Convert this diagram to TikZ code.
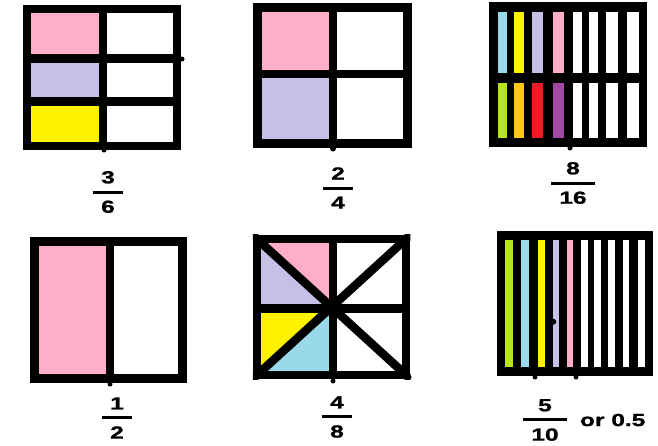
\documentclass[tikz,border=0pt]{standalone}
\usepackage{fontspec}
\setmainfont{Liberation Sans}[FakeStretch=1.4, BoldFeatures={FakeBold=1.2}]
\usetikzlibrary{calc, positioning}

\definecolor{pinkfill}{RGB}{255,174,201}
\definecolor{lavfill}{RGB}{200,191,231}
\definecolor{yelfill}{RGB}{255,242,0}
\definecolor{bluefill}{RGB}{153,217,234}
\definecolor{limefill}{RGB}{181,230,29}
\definecolor{goldfill}{RGB}{255,201,14}
\definecolor{redfill}{RGB}{237,28,36}
\definecolor{purpfill}{RGB}{163,73,164}

% numerator over a bar over denominator
\newcommand{\fracstack}[2]{%
  \setbox0=\hbox{#2}%
  \vbox{\offinterlineskip\halign{\hfil##\hfil\cr
    #1\cr\noalign{\kern7pt}%
    \rule{\dimexpr\wd0+16pt\relax}{3pt}\cr\noalign{\kern7pt}%
    #2\cr}}}

\begin{document}
\begin{tikzpicture}[x=1pt, y=-1pt,
  grid/.style={line width=8.5pt},
  nub/.style={fill=black},
  fraclabel/.style={inner sep=0pt, font=\bfseries\fontsize{17.5}{18}\selectfont}]
\useasboundingbox[fill=white] (0,0) rectangle (658,445);

% Square in sixths
\fill[pinkfill] (27,9) rectangle (103,58.5);
\fill[lavfill] (27,58.5) rectangle (103,101.5);
\fill[yelfill] (27,101.5) rectangle (103,146);
\draw[grid] (27,9) rectangle (177,146);
\draw[grid] (103,9) -- (103,146);
\draw[grid] (27,58.5) -- (177,58.5);
\draw[grid] (27,101.5) -- (177,101.5);
\fill[nub] (182,59) circle (2.5);
\fill[nub] (104,150) circle (2.5);
\node[fraclabel] (sixths) at (108,192) {\fracstack{3}{6}};

% Square in quarters
\fill[pinkfill] (257.5,7.5) rectangle (333,74);
\fill[lavfill] (257.5,74) rectangle (333,143.5);
\draw[grid] (257.5,7.5) rectangle (407.5,143.5);
\draw[grid] (333,7.5) -- (333,143.5);
\draw[grid] (257.5,74) -- (407.5,74);
\fill[nub] (333,148.5) circle (3);
\node[fraclabel] (quarters) at (338,188) {\fracstack{2}{4}};

% Square in sixteenths
\fill[black] (489,2) rectangle (647,147);
\foreach \xa/\xb/\ca/\cb in {498/507/bluefill/limefill, 514/524/yelfill/goldfill,
    532/543/lavfill/redfill, 553/564/pinkfill/purpfill, 573/582/white/white,
    589/598/white/white, 606/618/white/white, 627/639/white/white}{
  \fill[\ca] (\xa,12) rectangle (\xb,73);
  \fill[\cb] (\xa,83) rectangle (\xb,138);
}
\fill[nub] (570,148) circle (2.5);
\node[fraclabel] (sixteenths) at (573,183) {\fracstack{8}{16}};

% Square in halves
\fill[pinkfill] (34.5,241.5) rectangle (110,378.5);
\draw[grid] (34.5,241.5) rectangle (182.5,378.5);
\draw[grid] (110,241.5) -- (110,378.5);
\fill[nub] (110,384) circle (2.5);
\node[fraclabel] (halves) at (117,418) {\fracstack{1}{2}};

% Square in eighths
\coordinate (tl) at (257,239);
\coordinate (tr) at (406,239);
\coordinate (bl) at (257,375);
\coordinate (br) at (406,375);
\coordinate (mid) at (333,308.5);
\fill[pinkfill] (tl) -- (333,239) -- (mid) -- cycle;
\fill[lavfill] (tl) -- (mid) -- (257,308.5) -- cycle;
\fill[yelfill] (257,308.5) -- (mid) -- (bl) -- cycle;
\fill[bluefill] (bl) -- (mid) -- (333,375) -- cycle;
\draw[grid] (tl) rectangle (br);
\draw[grid] (333,239) -- (333,375);
\draw[grid] (257,308.5) -- (406,308.5);
\begin{scope}
  \clip (252.75,234.75) rectangle (410.25,379.25);
  \draw[grid] ($(tl)!-0.1!(br)$) -- ($(br)!-0.1!(tl)$);
  \draw[grid] ($(tr)!-0.1!(bl)$) -- ($(bl)!-0.1!(tr)$);
\end{scope}
\fill[nub] (333,381) circle (2.5);
\fill[nub] (409,377) circle (2.5);
\node[fraclabel] (eighths) at (337,417) {\fracstack{4}{8}};

% Square in tenths
\fill[black] (497,231) rectangle (653,376);
\foreach \xa/\xb/\cc in {505/513.3/limefill, 521/529.3/bluefill, 538.3/545/yelfill,
    552.7/559/lavfill, 566.7/573.3/pinkfill, 580.7/587.7/white, 594/601/white,
    607.7/615/white, 622.7/629.3/white, 638.3/645/white}{
  \fill[\cc] (\xa,240) rectangle (\xb,367.3);
}
\fill[nub] (553.3,321.7) circle (3);
\fill[nub] (535,377) circle (2.5);
\fill[nub] (576,377) circle (2.5);
\node[fraclabel] (tenths) at (545,420) {\fracstack{5}{10}};
\node[fraclabel, right=13pt of tenths] (decimal) {or 0.5};
\end{tikzpicture}
\end{document}
